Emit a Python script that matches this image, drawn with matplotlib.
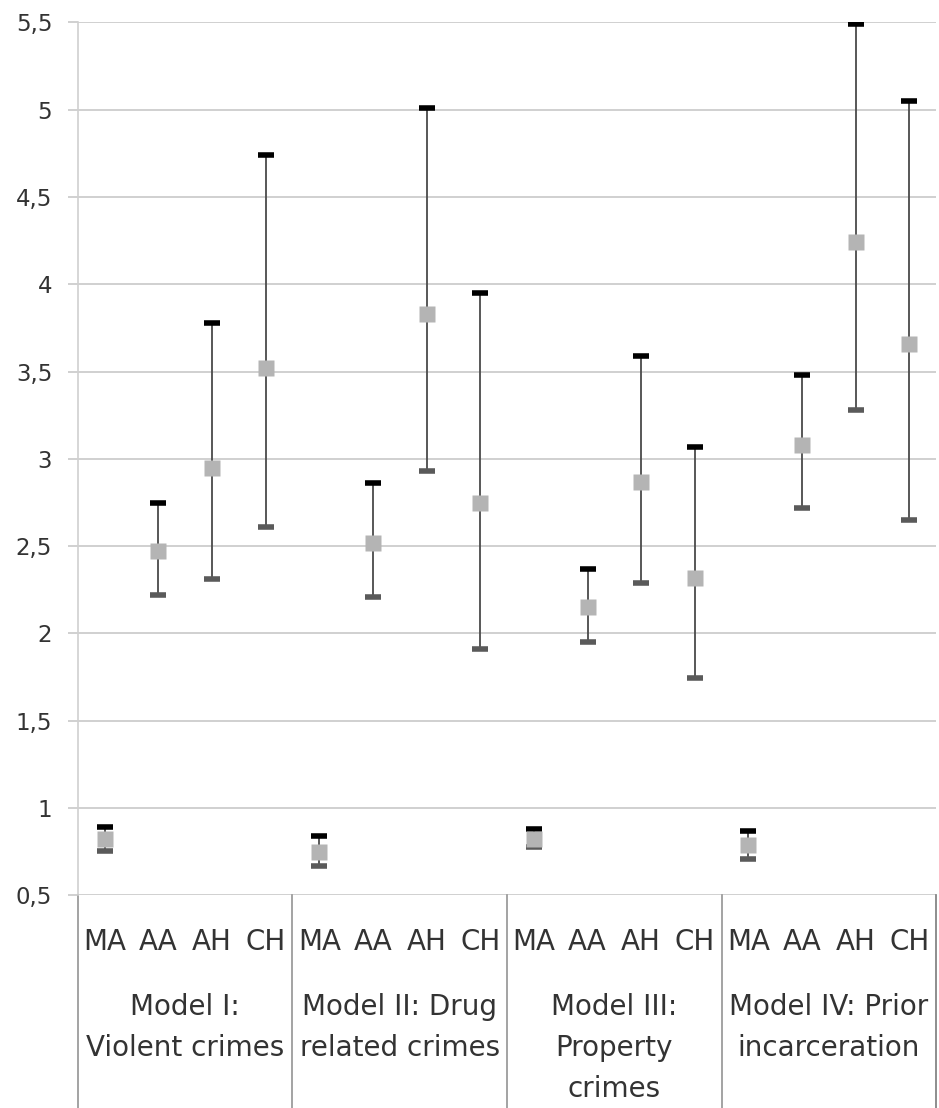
import numpy as np
import matplotlib.pyplot as plt

plt.rcParams['font.family'] = ['DejaVu Sans']

# Data (per category within each model)
groups = ["Model I:\nViolent crimes", "Model II: Drug\nrelated crimes",
          "Model III:\nProperty\ncrimes", "Model IV: Prior\nincarceration"]
cats = ["MA", "AA", "AH", "CH"]

high = [0.89, 2.75, 3.78, 4.74,
        0.84, 2.86, 5.01, 3.95,
        0.88, 2.37, 3.59, 3.07,
        0.87, 3.48, 5.49, 5.05]
mean = [0.82, 2.47, 2.95, 3.52,
        0.75, 2.52, 3.83, 2.75,
        0.82, 2.15, 2.87, 2.32,
        0.79, 3.08, 4.24, 3.66]
low = [0.755, 2.22, 2.31, 2.61,
       0.67, 2.21, 2.93, 1.91,
       0.775, 1.95, 2.29, 1.745,
       0.71, 2.72, 3.28, 2.65]

yticks = [0.5, 1, 1.5, 2, 2.5, 3, 3.5, 4, 4.5, 5, 5.5]

txt = '#333333'
grid = '#c4c4c4'

fig = plt.figure(figsize=(9.39, 11.08), dpi=100)
ax = fig.add_axes([0.083, 0.192, 0.914, 0.7877])

x = np.arange(len(high))
ax.vlines(x, low, high, color='#4a4a4a', lw=1.3, zorder=3)
ax.plot(x, low, ls='none', marker='_', ms=12, mew=4, color='#5a5a5a', zorder=4)
ax.plot(x, high, ls='none', marker='_', ms=12, mew=4, color='#000000', zorder=4)
ax.plot(x, mean, ls='none', marker='s', ms=11.5, color='#b4b4b4', mec='none', zorder=5)

ax.set_xlim(-0.5, len(high) - 0.5)
ax.set_ylim(0.5, 5.5)
ax.set_yticks(yticks)
ax.set_yticklabels([f"{v:g}".replace('.', ',') for v in yticks], fontsize=16.5, color=txt)
ax.tick_params(axis='y', length=7.5, width=1.1, color=grid, pad=11)
ax.set_xticks([])
ax.grid(axis='y', color=grid, lw=1.1)
ax.set_axisbelow(True)
for s in ['top', 'right', 'bottom']:
    ax.spines[s].set_visible(False)
ax.spines['left'].set_color('#d0d0d0')
ax.spines['left'].set_linewidth(1.2)

# category table below the axis
tr = ax.get_xaxis_transform()
for b in np.arange(-0.5, len(high), len(cats)):
    ax.plot([b, b], [0, -0.27], transform=tr, color='#8a8a8a', lw=1.1, clip_on=False)
ax.plot([len(high) - 0.5] * 2, [0, -0.27], transform=tr, color='#8a8a8a', lw=1.1, clip_on=False)

for i in x:
    ax.text(i, -0.054, cats[i % len(cats)], transform=tr, ha='center', va='center',
            fontsize=20, color=txt)
for g, name in enumerate(groups):
    ax.text(g * len(cats) + 1.5, -0.112, name, transform=tr, ha='center', va='top',
            fontsize=20, color=txt, linespacing=1.6)

fig.savefig("out.png", dpi=100)
